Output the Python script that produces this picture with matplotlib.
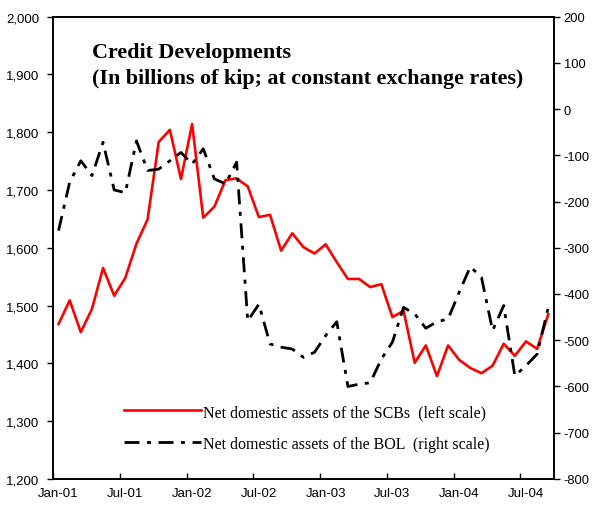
import numpy as np
import matplotlib
matplotlib.use("Agg")
import matplotlib.pyplot as plt
from matplotlib.lines import Line2D
from matplotlib.ticker import FuncFormatter

plt.rcParams["axes.unicode_minus"] = False

# Monthly observations, Jan-01 .. Sep-04
tick_labels = ["Jan-01", "Jul-01", "Jan-02", "Jul-02",
               "Jan-03", "Jul-03", "Jan-04", "Jul-04"]

# Net domestic assets of the state commercial banks (left scale)
scb_nda = [1468, 1509, 1454, 1494, 1565, 1517, 1548, 1607, 1649, 1783,
           1804, 1719, 1814, 1652, 1671, 1717, 1720, 1706, 1653, 1657,
           1595, 1625, 1601, 1590, 1606, 1575, 1546, 1546, 1532, 1537,
           1480, 1491, 1401, 1431, 1378, 1431, 1406, 1392, 1383, 1396,
           1434, 1413, 1438, 1425, 1485]

# Net domestic assets of the Bank of the Lao PDR (right scale)
bol_nda = [-263, -158, -112, -144, -72, -175, -181, -69, -133, -130,
           -112, -94, -119, -86, -151, -162, -115, -458, -422, -508,
           -515, -519, -537, -526, -490, -460, -600, -595, -592, -541,
           -504, -429, -443, -474, -460, -454, -396, -341, -364, -479,
           -425, -577, -555, -530, -429]

x = np.arange(len(scb_nda))
dash_dot = (5.4, 2.7, 1.45, 2.7)

fig = plt.figure(figsize=(5.92, 5.06), dpi=100)
ax = fig.add_axes([0.0895, 0.0514, 0.846, 0.914])
ax2 = ax.twinx()

ax.plot(x, scb_nda, color="#ff0000", lw=1.9)
bol_line, = ax2.plot(x, bol_nda, color="black", lw=2)
bol_line.set_dashes(dash_dot)

ax.set_xlim(-0.5, len(x) - 0.5)
ax.set_ylim(1200, 2000)
ax2.set_ylim(-800, 200)
ax.set_yticks(np.arange(1200, 2001, 100))
ax2.set_yticks(np.arange(-800, 201, 100))
ax.yaxis.set_major_formatter(FuncFormatter(lambda v, p: f"{v:,.0f}"))
ax2.yaxis.set_major_formatter(FuncFormatter(lambda v, p: f"{v:.0f}"))

# category labels centred on the month, tick marks between categories
ax.set_xticks(np.arange(0, len(x), 6))
ax.set_xticklabels(tick_labels)
ax.set_xticks(np.arange(-0.5, len(x), 6), minor=True)
ax.tick_params(axis="x", which="major", length=0, pad=6, labelsize=9.5)
ax.tick_params(axis="x", which="minor", length=4, direction="in", width=1)
ax.tick_params(axis="y", length=4, width=1, labelsize=9.5, pad=6)
ax2.tick_params(axis="y", length=4, width=1, labelsize=9.3, pad=3)

for a in (ax, ax2):
    for s in a.spines.values():
        s.set_linewidth(1.2)

for t in ax.get_xticklabels() + ax.get_yticklabels() + ax2.get_yticklabels():
    t.set_fontfamily("Liberation Sans")

fig.text(0.155, 0.916, "Credit Developments\n(In billions of kip; at constant exchange rates)",
         family="Liberation Serif", weight="bold", fontsize=15.8,
         ha="left", va="top", linespacing=1.45)

handles = [Line2D([], [], color="#ff0000", lw=1.9),
           Line2D([], [], color="black", lw=2, dashes=dash_dot)]
labels = ["Net domestic assets of the SCBs  (left scale)",
          "Net domestic assets of the BOL  (right scale)"]
ax2.legend(handles, labels, loc="upper left", bbox_to_anchor=(0.13, 0.176),
           frameon=False, prop={"family": "Liberation Serif", "size": 11.5},
           handlelength=4.8, handletextpad=0.1, labelspacing=1.0,
           borderaxespad=0)

fig.savefig("out.png", dpi=100)
